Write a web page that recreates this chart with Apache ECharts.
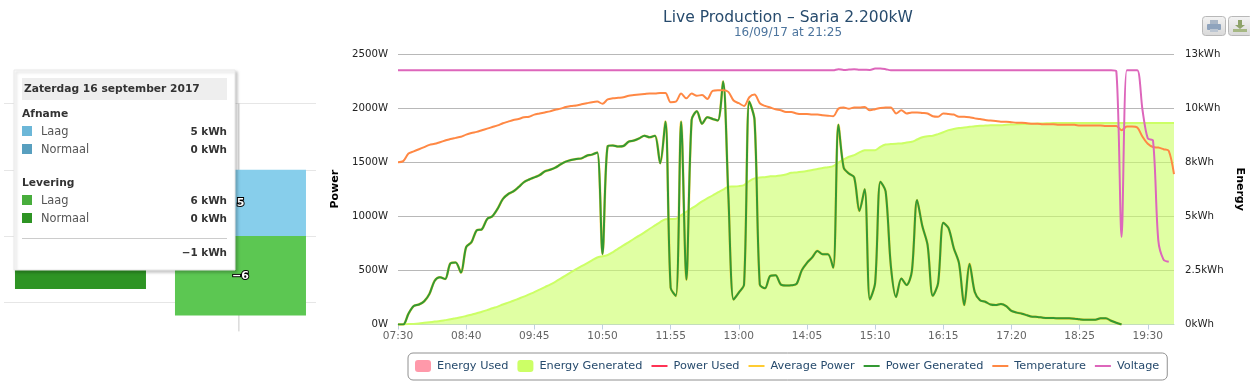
<!DOCTYPE html>
<html>
<head>
<meta charset="utf-8">
<style>html,body{margin:0;padding:0;background:#fff}#main{width:1250px;height:386px}</style>
<script src="https://cdn.jsdelivr.net/npm/echarts@6/dist/echarts.min.js"></script>
</head>
<body>
<div id="main"></div>
<script>
var font = '"DejaVu Sans"';
// thin bar inside the legend's 16x12 box, the empty corners keep it from being stretched
var lineIcon = 'path://M0,0 L0,0 Z M0,5 L16,5 L16,7 L0,7 Z M16,12 L16,12 Z';

// x axis labels, one every 13 samples
var tickLabels = ['07:30','08:40','09:45','10:50','11:55','13:00','14:05','15:10','16:15','17:20','18:25','19:30'];
var powerTicks = ['0W','500W','1000W','1500W','2000W','2500W'];
var energyTicks = ['0kWh','2.5kWh','5kWh','8kWh','10kWh','13kWh'];

// W
var powerGenerated = [0,0,100,170,185,215,283,405,437,420,565,573,480,715,760,870,880,975,1000,1070,
  1160,1205,1230,1270,1315,1340,1360,1380,1415,1430,1450,1480,1505,1520,1530,1535,1560,1570,1590,650,
  1650,1655,1645,1650,1690,1700,1720,1745,1730,1745,1490,1875,340,265,1875,415,1890,1970,1855,1915,
  1900,1885,2245,1200,230,295,370,2060,1890,370,335,450,455,370,360,362,375,500,570,620,
  680,650,650,525,1845,1450,1395,1360,1050,1250,232,385,1320,1230,540,255,425,365,490,1150,
  910,735,265,380,940,890,705,565,180,560,300,225,210,185,180,190,170,125,110,100,
  85,72,70,63,60,60,57,57,57,54,48,44,44,44,57,57,35,16,0];
var averagePower = powerGenerated;

// kWh
var energyGenerated = [0,0.01,0.02,0.03,0.05,0.08,0.11,0.14,0.17,0.21,0.25,0.3,0.35,0.41,0.47,0.54,0.61,0.69,0.78,0.86,
  0.96,1.05,1.14,1.24,1.34,1.45,1.56,1.68,1.8,1.92,2.05,2.2,2.36,2.52,2.66,2.8,2.94,3.08,3.22,3.28,
  3.34,3.48,3.65,3.8,3.96,4.12,4.27,4.43,4.6,4.76,4.92,5.06,5.07,5.08,5.25,5.42,5.58,5.74,5.92,6.06,
  6.2,6.35,6.48,6.62,6.63,6.65,6.7,6.89,7.02,7.07,7.08,7.12,7.13,7.16,7.21,7.29,7.31,7.34,7.38,7.43,
  7.47,7.52,7.56,7.61,7.78,7.93,8.06,8.14,8.27,8.37,8.38,8.38,8.54,8.65,8.67,8.69,8.7,8.75,8.78,8.89,
  9,9.05,9.07,9.15,9.24,9.34,9.4,9.44,9.47,9.5,9.53,9.55,9.56,9.57,9.58,9.58,9.6,9.61,9.62,9.63,
  9.64,9.65,9.66,9.66,9.67,9.68,9.68,9.68,9.68,9.68,9.68,9.68,9.68,9.68,9.68,9.68,9.68,9.68,9.68,9.68,
  9.68,9.68,9.68,9.68,9.68,9.68,9.68,9.68,9.68];
var energyUsed = [];
var powerUsed = [];

// degrees C, hidden axis 0-50
var temperature = [30,30.2,31.6,32,32.4,32.8,33.2,33.4,33.7,34,34.3,34.5,34.7,35.1,35.4,35.6,35.9,36.2,36.5,36.8,
  37.2,37.5,37.8,38,38.3,38.4,38.8,39,39.2,39.4,39.7,39.9,40.2,40.4,40.5,40.7,40.9,41.1,41.2,40.8,
  41.6,41.8,41.9,42,42.3,42.4,42.5,42.6,42.7,42.7,42.8,42.8,41.1,41.2,42.7,41.8,42.7,42.3,42.4,41.7,
  43.2,43.3,43.3,43,41.4,40.9,40.4,42,42.5,40.9,40.4,40.1,39.8,39.6,39.3,39.3,39,38.9,38.9,38.8,
  38.8,38.7,38.6,38.5,39.9,40.1,39.9,40.1,40.1,40.2,39.6,39.8,40,40.1,40.1,39,39.6,39,39.2,39.2,
  39.1,39,38.5,38.4,39,38.9,38.8,38.4,38.4,38.3,38.1,38,37.8,37.7,37.6,37.5,37.5,37.4,37.3,37.3,
  37.2,37.1,37.1,37,37,37,36.9,36.9,36.9,36.9,36.8,36.8,36.8,36.8,36.8,36.7,36.7,36.7,35.9,36.6,
  36.6,36.4,34.7,33.4,32.8,32.7,32.4,32.1,27.8];

// V, hidden axis 0-250
var voltage = [235,235,235,235,235,235,235,235,235,235,235,235,235,235,235,235,235,235,235,235,
  235,235,235,235,235,235,235,235,235,235,235,235,235,235,235,235,235,235,235,235,
  235,235,235,235,235,235,235,235,235,235,235,235,235,235,235,235,235,235,235,235,
  235,235,235,235,235,235,235,235,235,235,235,235,235,235,235,235,235,235,235,235,
  235,235,235,235,236,235.3,235.6,236,235.5,235.4,235.3,236.5,236.6,236,235,235,235,235,235,235,
  235,235,235,235,235,235,235,235,235,235,235,235,235,235,235,235,235,235,235,235,
  235,235,235,235,235,235,235,235,235,235,235,235,235,235,235,235,235,234,81,235,
  235,235,198,172,170,78,60,58];

var categories = temperature.map(function(v,i){ return i%13==0 ? tickLabels[i/13] : ''; });

// left chart, kWh per day, x is the day position
var afnameLaag = [[1,5]];
var leveringLaag = [[1,-6]];
var leveringNormaal = [[0,-4]];
var dayLine = [[0.99,10],[0.99,-7.2]];

// tooltip contents
var tipTitle = 'Zaterdag 16 september 2017';
var tipRows = [
  {y:114,head:'Afname'},
  {y:132,name:'Laag',value:'5 kWh',color:'#6CB7D8'},
  {y:150,name:'Normaal',value:'0 kWh',color:'#589FBF'},
  {y:183,head:'Levering'},
  {y:201,name:'Laag',value:'6 kWh',color:'#48AD3C'},
  {y:219,name:'Normaal',value:'0 kWh',color:'#2E9424'}
];
var tipTotal = '\u22121 kWh';

function tipGraphics(){
  var g = [];
  var z = 100;
  g.push({type:'rect',z:z,shape:{x:14,y:70,width:221,height:200},
    style:{fill:'#fff',stroke:'#e8e8e8',lineWidth:1,shadowBlur:3,shadowOffsetX:2,shadowOffsetY:2,shadowColor:'rgba(0,0,0,0.22)'}});
  g.push({type:'rect',z:z,shape:{x:22,y:78,width:205,height:22},style:{fill:'#eeeeee'}});
  g.push({type:'text',z:z,x:24,y:89,style:{text:tipTitle,font:'bold 10.7px '+font,fill:'#333',textVerticalAlign:'middle'}});
  tipRows.forEach(function(r){
    if(r.head){
      g.push({type:'text',z:z,x:22,y:r.y,style:{text:r.head,font:'bold 10.7px '+font,fill:'#333',textVerticalAlign:'middle'}});
    }else{
      g.push({type:'rect',z:z,shape:{x:22,y:r.y-6,width:10,height:10},style:{fill:r.color}});
      g.push({type:'text',z:z,x:41,y:r.y,style:{text:r.name,font:'11.4px '+font,fill:'#555',textVerticalAlign:'middle'}});
      g.push({type:'text',z:z,x:227,y:r.y,style:{text:r.value,font:'bold 10.4px '+font,fill:'#333',textAlign:'right',textVerticalAlign:'middle'}});
    }
  });
  g.push({type:'rect',z:z,shape:{x:22,y:238,width:205,height:1},style:{fill:'#cccccc'}});
  g.push({type:'text',z:z,x:227,y:253,style:{text:tipTotal,font:'bold 10.4px '+font,fill:'#333',textAlign:'right',textVerticalAlign:'middle'}});
  return g;
}

function buttonGraphics(){
  var grad = new echarts.graphic.LinearGradient(0,0,0,1,[{offset:0,color:'#f4f4f4'},{offset:1,color:'#d8d8d8'}]);
  var g = [];
  g.push({type:'rect',shape:{x:1202.5,y:16.5,width:23,height:19,r:3},style:{fill:grad,stroke:'#b8b8b8'}});
  g.push({type:'rect',shape:{x:1228.5,y:16.5,width:24,height:19,r:3},style:{fill:grad,stroke:'#b8b8b8'}});
  // print icon
  g.push({type:'rect',shape:{x:1210,y:20,width:8,height:5},style:{fill:'#a9b6c6'}});
  g.push({type:'rect',shape:{x:1207,y:24,width:14,height:6,r:1},style:{fill:'#8ea3bd'}});
  g.push({type:'rect',shape:{x:1210,y:29,width:8,height:3},style:{fill:'#bcc6d2'}});
  // download icon
  g.push({type:'rect',shape:{x:1238,y:20,width:4,height:5},style:{fill:'#8ea36a'}});
  g.push({type:'polygon',shape:{points:[[1235,25],[1245,25],[1240,29]]},style:{fill:'#8ea36a'}});
  g.push({type:'rect',shape:{x:1233,y:29,width:14,height:3},style:{fill:'#a6b884'}});
  return g;
}

var option = {
  animation:false,
  textStyle:{fontFamily:font},
  title:{
    text:'Live Production \u2013 Saria 2.200kW',
    subtext:'16/09/17 at 21:25',
    left:783, top:5, textAlign:'center', itemGap:1,
    textStyle:{fontFamily:font,fontSize:15.5,fontWeight:'normal',color:'#274b6d'},
    subtextStyle:{fontFamily:font,fontSize:12,color:'#4d759e'}
  },
  legend:{
    left:408, top:353, padding:[7,8,8,7],
    itemWidth:16, itemHeight:12, itemGap:9,
    borderColor:'#909090', borderWidth:1, borderRadius:5,
    textStyle:{fontFamily:font,fontSize:11.3,color:'#274b6d',padding:[0,0,0,1]},
    data:[
      {name:'Energy Used',icon:'roundRect'},
      {name:'Energy Generated',icon:'roundRect'},
      {name:'Power Used',icon:lineIcon},
      {name:'Average Power',icon:lineIcon},
      {name:'Power Generated',icon:lineIcon},
      {name:'Temperature',icon:lineIcon},
      {name:'Voltage',icon:lineIcon}
    ]
  },
  grid:[
    {left:398,top:54,width:776,height:270.5,outerBoundsMode:'none'},
    {left:4,top:103.5,width:312,height:265,outerBoundsMode:'none'}
  ],
  xAxis:[
    {type:'category',gridIndex:0,data:categories,boundaryGap:false,
      axisLine:{lineStyle:{color:'#C0D0E0'}},
      axisTick:{interval:12,length:5,lineStyle:{color:'#C0D0E0'}},
      axisLabel:{interval:12,margin:6,color:'#666',fontSize:10.6,fontFamily:font,showMinLabel:true},
      splitLine:{show:false}},
    {type:'value',gridIndex:1,min:-0.478,max:1.472,
      axisLine:{show:false},axisTick:{show:false},axisLabel:{show:false},splitLine:{show:false}}
  ],
  yAxis:[
    {type:'value',gridIndex:0,min:0,max:2500,interval:500,position:'left',
      name:'Power',nameLocation:'middle',nameGap:51,nameRotate:90,
      nameTextStyle:{fontFamily:font,fontSize:11,fontWeight:'bold',color:'#000'},
      axisLine:{show:false},axisTick:{show:false},
      axisLabel:{margin:10,color:'#222',fontSize:10.2,fontFamily:font,formatter:function(v){return powerTicks[v/500];}},
      splitLine:{lineStyle:{color:'#b8b8b8'}}},
    {type:'value',gridIndex:0,min:0,max:13,interval:2.6,position:'right',
      name:'Energy',nameLocation:'middle',nameGap:48,nameRotate:-90,
      nameTextStyle:{fontFamily:font,fontSize:11,fontWeight:'bold',color:'#000'},
      axisLine:{show:false},axisTick:{show:false},
      axisLabel:{margin:11,color:'#222',fontSize:10.2,fontFamily:font,formatter:function(v){return energyTicks[Math.round(v/2.6)];}},
      splitLine:{show:false}},
    {type:'value',gridIndex:0,min:0,max:50,show:false},
    {type:'value',gridIndex:0,min:0,max:250,show:false},
    {type:'value',gridIndex:1,min:-10,max:10,interval:5,
      axisLine:{show:false},axisTick:{show:false},axisLabel:{show:false},
      splitLine:{showMinLine:false,lineStyle:{color:'#e6e6e6'}}}
  ],
  series:[
    {name:'Energy Used',type:'line',yAxisIndex:1,data:energyUsed,symbol:'none',
      itemStyle:{color:'#FF99AA'},lineStyle:{color:'#FF99AA'},areaStyle:{color:'#FF99AA'}},
    {name:'Energy Generated',type:'line',yAxisIndex:1,data:energyGenerated,smooth:0.3,symbol:'none',z:1,
      itemStyle:{color:'#CCFF66'},lineStyle:{color:'#CCFF66',width:2},areaStyle:{color:'#CCFF66',opacity:0.6}},
    {name:'Power Used',type:'line',data:powerUsed,symbol:'none',
      itemStyle:{color:'#FF3355'},lineStyle:{color:'#FF3355',width:2}},
    {name:'Average Power',type:'line',data:averagePower,smooth:0.3,symbol:'none',z:2,
      itemStyle:{color:'#FFCC33'},lineStyle:{color:'#FFCC33',width:2.6,opacity:0.8}},
    {name:'Power Generated',type:'line',data:powerGenerated,smooth:0.3,symbol:'none',z:3,
      itemStyle:{color:'#339933'},lineStyle:{color:'#339933',width:2}},
    {name:'Temperature',type:'line',yAxisIndex:2,data:temperature,smooth:0.3,symbol:'none',z:3,
      itemStyle:{color:'#FF8844'},lineStyle:{color:'#FF8844',width:2}},
    {name:'Voltage',type:'line',yAxisIndex:3,data:voltage,smooth:0.3,symbol:'none',z:3,
      itemStyle:{color:'#DD66BB'},lineStyle:{color:'#DD66BB',width:2}},

    {name:'day',type:'line',xAxisIndex:1,yAxisIndex:4,data:dayLine,symbol:'none',z:1,silent:true,
      lineStyle:{color:'#c8c8c8',width:1}},
    {name:'Afname Laag',type:'bar',xAxisIndex:1,yAxisIndex:4,stack:'day',barWidth:131,data:afnameLaag,z:2,
      itemStyle:{color:'#87CEEB'},
      label:{show:true,position:'inside',color:'#fff',fontSize:11,fontWeight:'bold',fontFamily:font,textBorderColor:'#000',textBorderWidth:2,
        formatter:function(p){return p.value[1];}}},
    {name:'Levering Laag',type:'bar',xAxisIndex:1,yAxisIndex:4,stack:'day',barWidth:131,data:leveringLaag,z:2,
      itemStyle:{color:'#5CC752'},
      label:{show:true,position:'inside',color:'#fff',fontSize:11,fontWeight:'bold',fontFamily:font,textBorderColor:'#000',textBorderWidth:2,
        formatter:function(p){return '\u2212'+Math.abs(p.value[1]);}}},
    {name:'Levering Normaal',type:'bar',xAxisIndex:1,yAxisIndex:4,stack:'day',barWidth:131,data:leveringNormaal,z:2,
      itemStyle:{color:'#2E9424'}}
  ],
  graphic:{elements:tipGraphics().concat(buttonGraphics())}
};

echarts.init(document.getElementById('main')).setOption(option);
</script>
</body>
</html>
